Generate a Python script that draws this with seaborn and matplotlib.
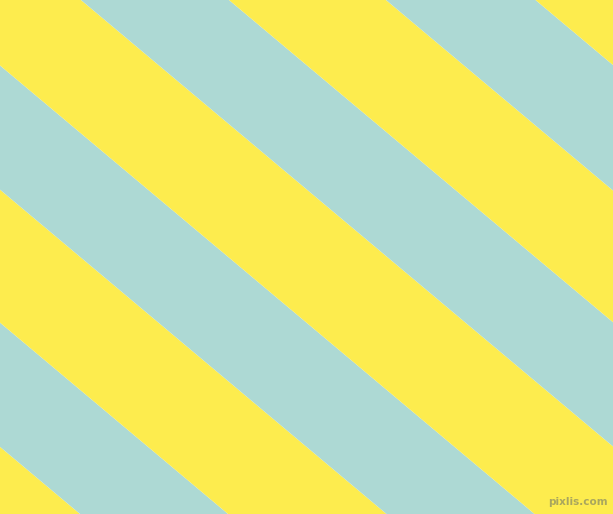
import numpy as np
import matplotlib
matplotlib.use('Agg')
import matplotlib.pyplot as plt
import seaborn as sns

# stripe edges, given as where each edge meets the top border (px)
edges = [-900, -532.5, -384.5, -226, -78, 81, 229, 386, 535.5, 900]
stripe_colors = ['yellow', 'blue', 'yellow', 'blue', 'yellow', 'blue', 'yellow', 'blue', 'yellow']
angle = 40.0  # degrees below horizontal

sns.set_style('white')
pal = dict(zip(['yellow', 'blue'], sns.color_palette(['#FDEC4E', '#ADD9D4'])))

W, H = 613, 514
fig = plt.figure(figsize=(W / 100, H / 100), dpi=100)
ax = fig.add_axes([0, 0, 1, 1])
slope = np.tan(np.radians(angle))
x = np.array([0.0, W])
for lo, hi, c in zip(edges[:-1], edges[1:], stripe_colors):
    ax.fill_between(x, slope * (x - lo), slope * (x - hi), color=pal[c], lw=0)

ax.text(608, 507, 'pixlis.com', ha='right', va='bottom', fontsize=7.5,
        color='#a9a65e', family='DejaVu Sans', fontweight='bold')
ax.set_xlim(0, W)
ax.set_ylim(H, 0)
ax.axis('off')
fig.savefig('out.png', dpi=100)
